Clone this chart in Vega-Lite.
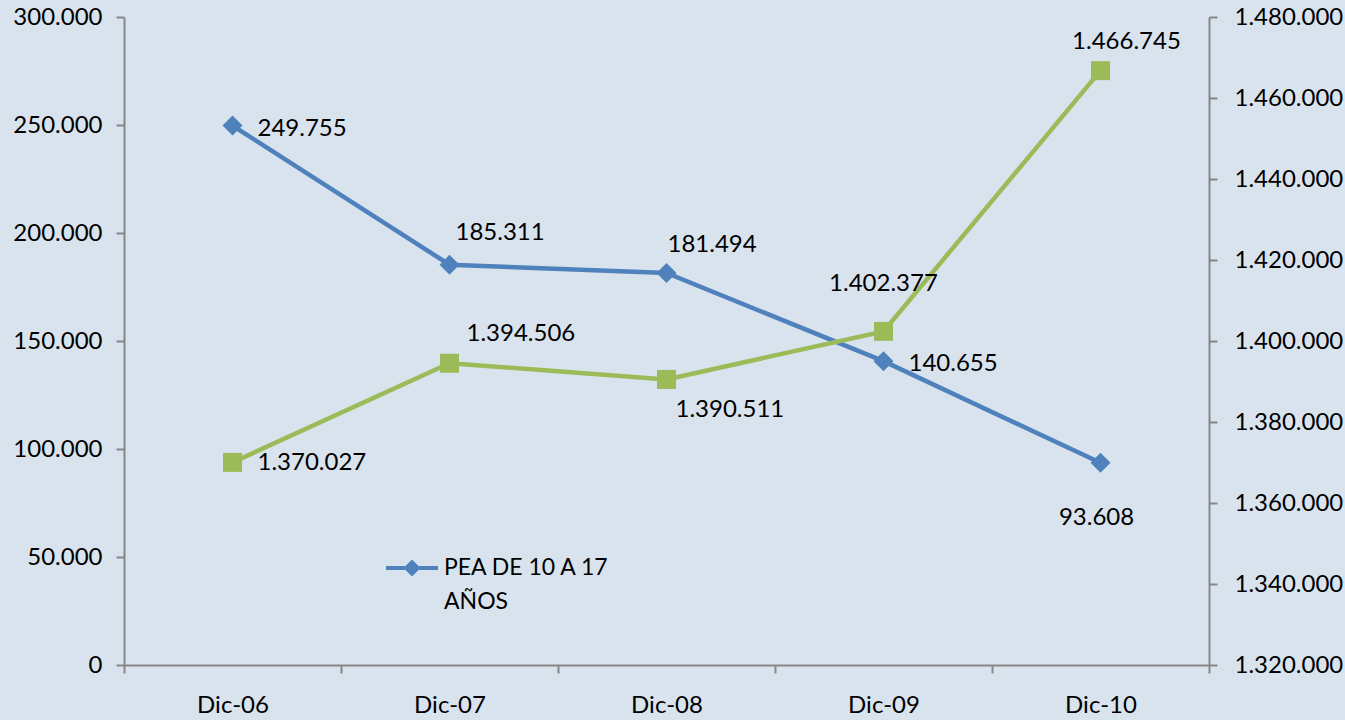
{
  "$schema": "https://vega.github.io/schema/vega-lite/v6.json",
  "width": 1085,
  "height": 648,
  "autosize": {"type": "none"},
  "padding": {"left": 124, "top": 17, "right": 136, "bottom": 55},
  "background": "#d9e3ee",
  "config": {
    "view": {"stroke": null},
    "font": "Lato",
    "locale": {"number": {"decimal": ",", "thousands": ".", "grouping": [3], "currency": ["", ""]}},
    "axis": {
      "domainColor": "#878787", "domainWidth": 2, "tickColor": "#878787", "tickWidth": 2, "tickSize": 8,
      "labelFont": "Lato", "labelFontSize": 24, "labelColor": "#000000", "grid": false, "title": null
    }
  },
  "data": {"values": [
    {"fecha": "Dic-06", "pea": 249755, "serie2": 1370027},
    {"fecha": "Dic-07", "pea": 185311, "serie2": 1394506},
    {"fecha": "Dic-08", "pea": 181494, "serie2": 1390511},
    {"fecha": "Dic-09", "pea": 140655, "serie2": 1402377},
    {"fecha": "Dic-10", "pea": 93608, "serie2": 1466745}
  ]},
  "encoding": {
    "x": {
      "field": "fecha", "type": "ordinal", "bandPosition": 0.5,
      "scale": {"type": "band", "paddingInner": 0, "paddingOuter": 0},
      "axis": {"labelAngle": 0, "tickBand": "extent", "labelPadding": 20}
    }
  },
  "layer": [
    {
      "encoding": {
        "y": {"field": "pea", "type": "quantitative",
          "scale": {"domain": [0, 300000], "nice": false, "zero": false},
          "axis": {"orient": "left", "values": [0, 50000, 100000, 150000, 200000, 250000, 300000], "format": ",d", "labelPadding": 14}}
      },
      "layer": [
        {
          "mark": {"type": "line", "strokeWidth": 4.5, "point": {"shape": "diamond", "size": 400, "filled": true, "opacity": 1}},
          "encoding": {
            "color": {"datum": "PEA DE 10 A 17 AÑOS", "type": "nominal",
              "scale": {"range": ["#4f81bd"]},
              "legend": {
                "orient": "none", "legendX": 262, "legendY": 525, "title": null,
                "symbolType": "M -1 -0.08 L 1 -0.08 L 1 0.08 L -1 0.08 Z M 0 -0.33 L 0.33 0 L 0 0.33 L -0.33 0 Z",
                "symbolSize": 2704, "symbolFillColor": "#4f81bd", "symbolStrokeWidth": 0,
                "labelFont": "Lato", "labelFontSize": 23, "labelColor": "#000000", "labelLimit": 0,
                "labelExpr": "['PEA DE 10 A 17', 'AÑOS']", "labelOffset": 6,
                "encode": {"labels": {"update": {"lineHeight": {"value": 34}}}}
              }}
          }
        },
        {"transform": [{"filter": "datum.fecha === 'Dic-06' || datum.fecha === 'Dic-09'"}],
         "mark": {"type": "text", "align": "left", "baseline": "middle", "dx": 25, "dy": 3, "fontSize": 24, "font": "Lato", "color": "#000000"},
         "encoding": {"text": {"field": "pea", "type": "quantitative", "format": ",d"}}},
        {"transform": [{"filter": "datum.fecha === 'Dic-07'"}],
         "mark": {"type": "text", "align": "left", "baseline": "middle", "dx": 6, "dy": -32, "fontSize": 24, "font": "Lato", "color": "#000000"},
         "encoding": {"text": {"field": "pea", "type": "quantitative", "format": ",d"}}},
        {"transform": [{"filter": "datum.fecha === 'Dic-08'"}],
         "mark": {"type": "text", "align": "left", "baseline": "middle", "dx": 1, "dy": -28, "fontSize": 24, "font": "Lato", "color": "#000000"},
         "encoding": {"text": {"field": "pea", "type": "quantitative", "format": ",d"}}},
        {"transform": [{"filter": "datum.fecha === 'Dic-10'"}],
         "mark": {"type": "text", "align": "center", "baseline": "middle", "dx": -4, "dy": 55, "fontSize": 24, "font": "Lato", "color": "#000000"},
         "encoding": {"text": {"field": "pea", "type": "quantitative", "format": ",d"}}}
      ]
    },
    {
      "encoding": {
        "y": {"field": "serie2", "type": "quantitative",
          "scale": {"domain": [1320000, 1480000], "nice": false, "zero": false},
          "axis": {"orient": "right", "values": [1320000, 1340000, 1360000, 1380000, 1400000, 1420000, 1440000, 1460000, 1480000], "format": ",d", "labelPadding": 17}}
      },
      "layer": [
        {"mark": {"type": "line", "color": "#9bbb59", "strokeWidth": 4.5, "point": {"shape": "square", "size": 361, "filled": true, "color": "#9bbb59", "opacity": 1}}},
        {"transform": [{"filter": "datum.fecha === 'Dic-06'"}],
         "mark": {"type": "text", "align": "left", "baseline": "middle", "dx": 25, "dy": 1, "fontSize": 24, "font": "Lato", "color": "#000000"},
         "encoding": {"text": {"field": "serie2", "type": "quantitative", "format": ",d"}}},
        {"transform": [{"filter": "datum.fecha === 'Dic-07'"}],
         "mark": {"type": "text", "align": "left", "baseline": "middle", "dx": 17, "dy": -29, "fontSize": 24, "font": "Lato", "color": "#000000"},
         "encoding": {"text": {"field": "serie2", "type": "quantitative", "format": ",d"}}},
        {"transform": [{"filter": "datum.fecha === 'Dic-08'"}],
         "mark": {"type": "text", "align": "left", "baseline": "middle", "dx": 9, "dy": 31, "fontSize": 24, "font": "Lato", "color": "#000000"},
         "encoding": {"text": {"field": "serie2", "type": "quantitative", "format": ",d"}}},
        {"transform": [{"filter": "datum.fecha === 'Dic-09'"}],
         "mark": {"type": "text", "align": "center", "baseline": "middle", "dx": 0, "dy": -47, "fontSize": 24, "font": "Lato", "color": "#000000"},
         "encoding": {"text": {"field": "serie2", "type": "quantitative", "format": ",d"}}},
        {"transform": [{"filter": "datum.fecha === 'Dic-10'"}],
         "mark": {"type": "text", "align": "center", "baseline": "middle", "dx": 26, "dy": -29, "fontSize": 24, "font": "Lato", "color": "#000000"},
         "encoding": {"text": {"field": "serie2", "type": "quantitative", "format": ",d"}}}
      ]
    }
  ],
  "resolve": {"scale": {"y": "independent", "color": "independent"}}
}
